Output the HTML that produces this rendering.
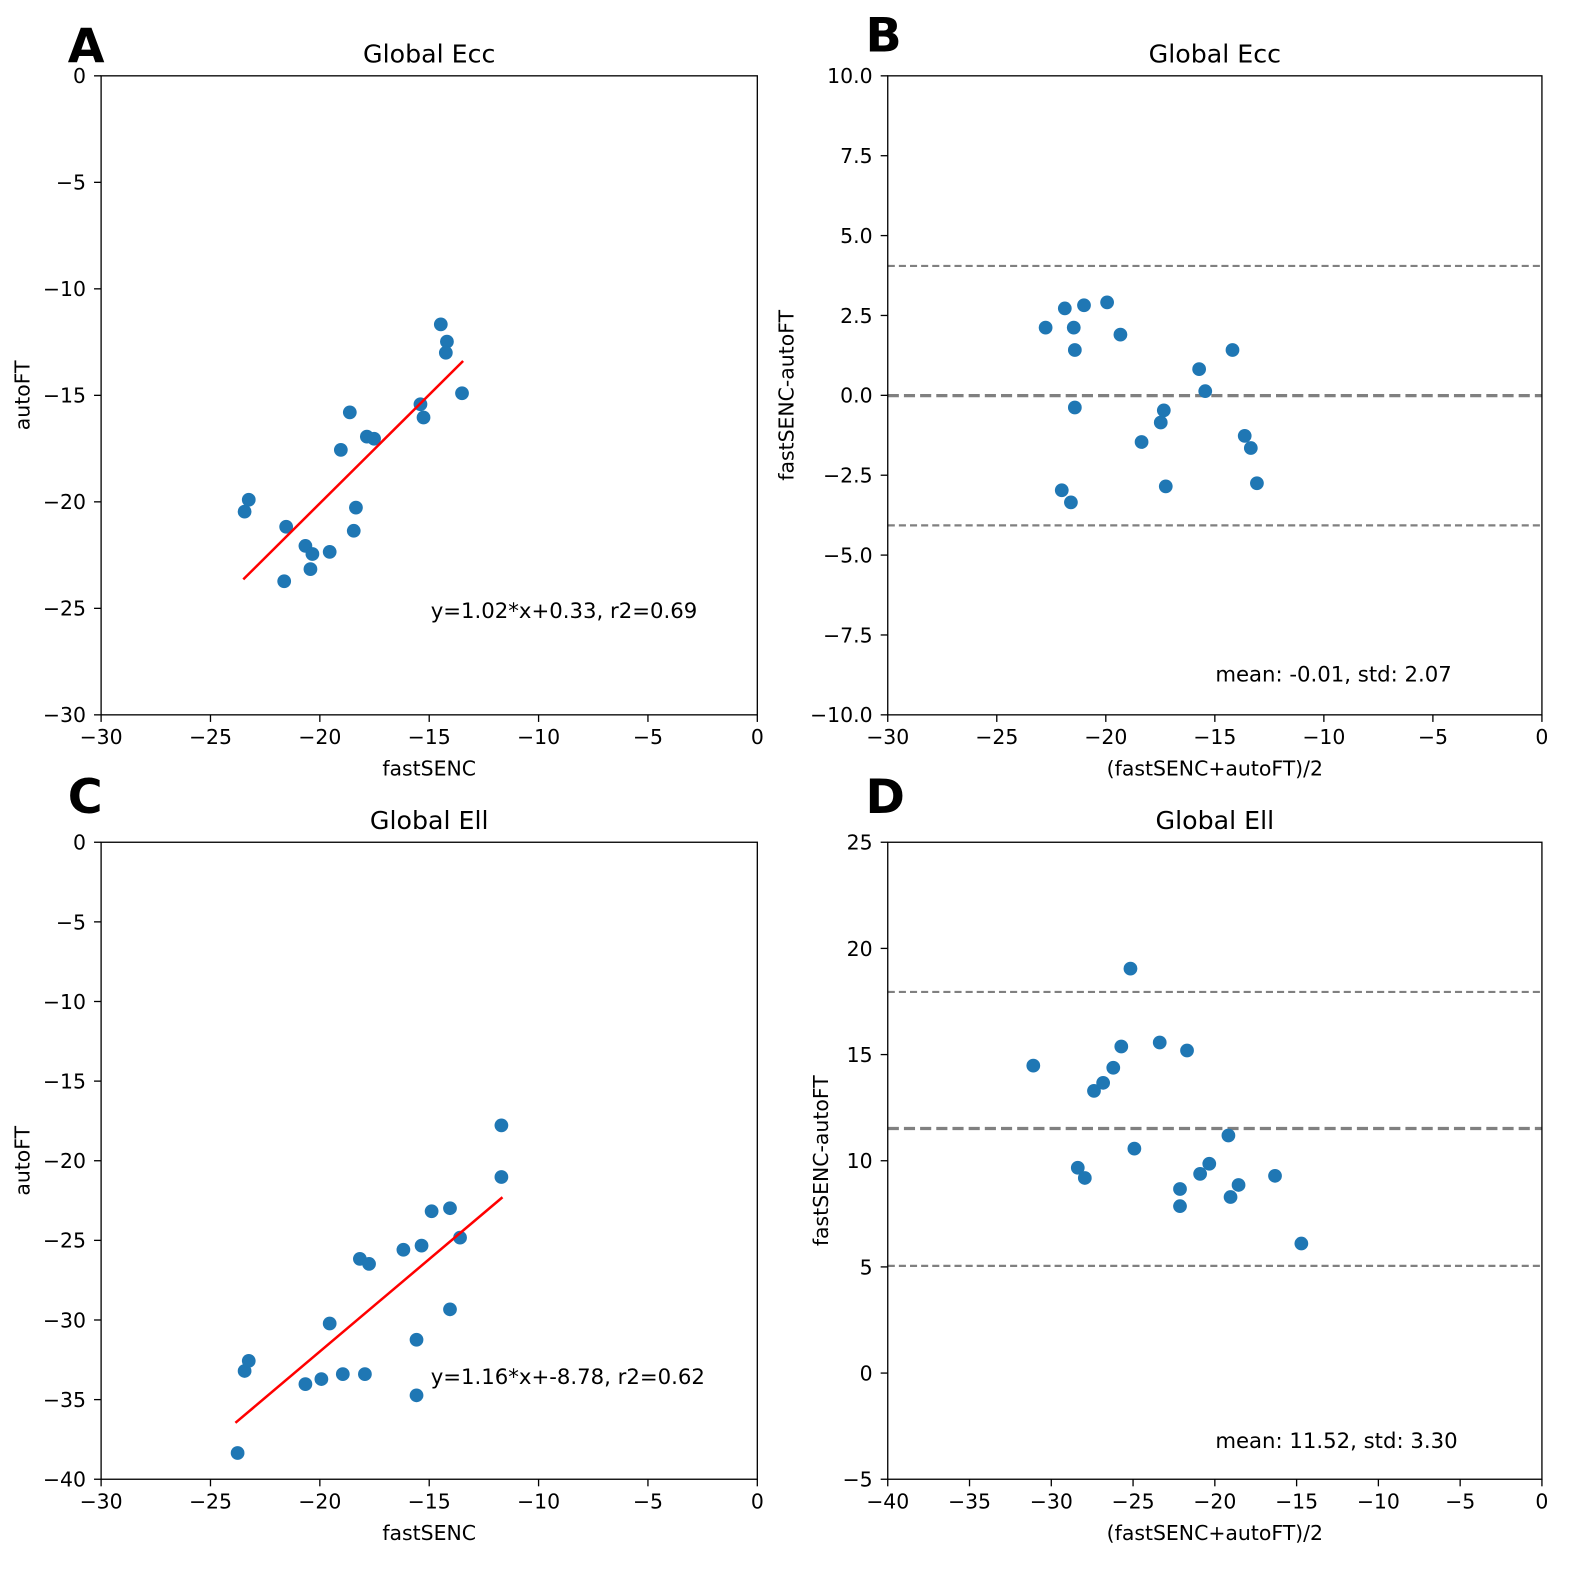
<!DOCTYPE html>
<html><head><meta charset="utf-8"><style>
body{margin:0;background:#fff}
svg{display:block;font-family:"DejaVu Sans","Liberation Sans",sans-serif}
</style></head><body>
<svg width="1575" height="1585" xmlns="http://www.w3.org/2000/svg"><g id="fig" transform="scale(1.0111)"></g></svg>
<script>
const aX=[-23.44,-23.25,-21.54,-21.63,-20.66,-20.34,-20.43,-19.55,-19.04,-18.63,-18.45,-18.35,-17.85,-17.52,-15.4,-15.26,-14.47,-14.19,-14.24,-13.5];
const aY=[-20.46,-19.9,-21.17,-23.73,-22.07,-22.45,-23.16,-22.35,-17.56,-15.8,-21.36,-20.27,-16.94,-17.04,-15.42,-16.04,-11.67,-12.48,-13.0,-14.9];
const aFit=[1.02,0.33]; const aFitRange=[-23.5,-13.45];
const bX=[-22.76,-21.88,-21.47,-21.0,-19.94,-19.33,-21.42,-21.42,-22.02,-21.6,-18.36,-17.48,-17.34,-17.25,-15.72,-15.44,-14.19,-13.63,-13.35,-13.07];
const bY=[2.12,2.72,2.12,2.82,2.91,1.9,1.42,-0.38,-2.97,-3.35,-1.46,-0.85,-0.47,-2.85,0.82,0.13,1.42,-1.27,-1.65,-2.75];
const bLines=[-0.01,4.05,-4.07];
const cX=[-23.76,-23.44,-23.25,-20.66,-19.93,-19.55,-18.95,-18.17,-17.94,-17.75,-16.18,-15.58,-15.58,-15.35,-14.89,-14.05,-14.05,-13.59,-11.7,-11.7];
const cY=[-38.35,-33.2,-32.57,-34.03,-33.71,-30.22,-33.4,-26.16,-33.4,-26.48,-25.59,-31.24,-34.73,-25.33,-23.17,-22.98,-29.33,-24.83,-17.78,-21.02];
const cFit=[1.16,-8.78]; const cFitRange=[-23.86,-11.65];
const dX=[-31.1,-28.38,-27.95,-27.39,-26.83,-26.21,-25.72,-25.16,-24.92,-23.37,-22.13,-22.13,-21.7,-20.9,-20.34,-19.17,-19.04,-18.55,-16.32,-14.71];
const dY=[14.48,9.67,9.19,13.29,13.67,14.38,15.38,19.05,10.57,15.57,8.67,7.86,15.19,9.38,9.86,11.19,8.29,8.86,9.29,6.1];
const dLines=[11.52,17.95,5.05];
const ticksX30=[-30,-25,-20,-15,-10,-5,0];
const ticksX40=[-40,-35,-30,-25,-20,-15,-10,-5,0];
const ticksYA=[-30,-25,-20,-15,-10,-5,0];
const ticksYB=[-10,-7.5,-5,-2.5,0,2.5,5,7.5,10];
const ticksYC=[-40,-35,-30,-25,-20,-15,-10,-5,0];
const ticksYD=[-5,0,5,10,15,20,25];

const NS="http://www.w3.org/2000/svg";
const svg=document.getElementById('fig');
const FS=20.2;
function mk(tag,attrs,parent,text){const e=document.createElementNS(NS,tag);for(const k in attrs)e.setAttribute(k,attrs[k]);if(text!==undefined)e.textContent=text;(parent||svg).appendChild(e);return e;}
function fmt(v,dec){let s=v.toFixed(dec);return s.replace('-','\u2212');}

function panel(o){
  const g=mk('g',{});
  
  
  const sx=v=>o.x0+(v-o.xr[0])/(o.xr[1]-o.xr[0])*(o.x1-o.x0);
  const sy=v=>o.y1-(v-o.yr[0])/(o.yr[1]-o.yr[0])*(o.y1-o.y0);
  if(o.lines){o.lines.forEach((v,i)=>{const l=mk('line',{x1:o.x0,x2:o.x1,y1:sy(v),y2:sy(v),stroke:'#808080','stroke-width':i===0?3.2:2.2,'stroke-dasharray':i===0?'11,5':'7,4'},g);
    
    });}
  o.xs.forEach((x,i)=>{const c=mk('circle',{cx:sx(x),cy:sy(o.ys[i]),r:6.8,fill:'#1f77b4'},g);
    
    });
  if(o.fit){const f=o.fit,r=o.fitRange;const l=mk('line',{x1:sx(r[0]),y1:sy(f[0]*r[0]+f[1]),x2:sx(r[1]),y2:sy(f[0]*r[1]+f[1]),stroke:'#ff0000','stroke-width':2.5},g);
    
    }
  const fr=mk('rect',{x:o.x0,y:o.y0,width:o.x1-o.x0,height:o.y1-o.y0,fill:'none',stroke:'#000','stroke-width':1.3},g);
  
  
  o.tx.forEach(v=>{mk('line',{x1:sx(v),x2:sx(v),y1:o.y1,y2:o.y1+7,stroke:'#000','stroke-width':1.3},g);
    const t=mk('text',{x:sx(v),y:o.y1+29,'font-size':FS,'text-anchor':'middle'},g,fmt(v,0));
    
    });
  o.ty.forEach(v=>{mk('line',{x1:o.x0-7,x2:o.x0,y1:sy(v),y2:sy(v),stroke:'#000','stroke-width':1.3},g);
    const t=mk('text',{x:o.x0-15,y:sy(v)+7.3,'font-size':FS,'text-anchor':'end'},g,fmt(v,o.ydec));
    
    });
  const xl=mk('text',{x:(o.x0+o.x1)/2,y:o.y1+60,'font-size':FS,'text-anchor':'middle'},g,o.xlabel);
  
  
  const yl=mk('text',{x:0,y:0,'font-size':FS,'text-anchor':'middle',transform:`translate(${o.ylx},${(o.y0+o.y1)/2}) rotate(-90)`},g,o.ylabel);
  
  
  const ti=mk('text',{x:(o.x0+o.x1)/2,y:o.y0-13,'font-size':25,'text-anchor':'middle'},g,o.title);
  
  
  const le=mk('text',{x:o.lx,y:o.ly,'font-size':47,'font-weight':'bold'},g,o.letter);
  
  
  const an=mk('text',{x:o.ax,y:o.ay,'font-size':21},g,o.annot);
  
  
}
panel({id:'a',x0:100,x1:749,y0:75,y1:707,xr:[-30,0],yr:[-30,0],xs:aX,ys:aY,fit:aFit,fitRange:aFitRange,tx:ticksX30,ty:ticksYA,ydec:0,xlabel:'fastSENC',ylabel:'autoFT',ylx:29,title:'Global Ecc',letter:'A',lx:67,ly:62,annot:'y=1.02*x+0.33, r2=0.69',ax:426,ay:611});
panel({id:'b',x0:878,x1:1525,y0:75,y1:707,xr:[-30,0],yr:[-10,10],xs:bX,ys:bY,lines:bLines,tx:ticksX30,ty:ticksYB,ydec:1,xlabel:'(fastSENC+autoFT)/2',ylabel:'fastSENC-autoFT',ylx:785,title:'Global Ecc',letter:'B',lx:856,ly:51,annot:'mean: -0.01, std: 2.07',ax:1202,ay:674});
panel({id:'c',x0:100,x1:749,y0:833,y1:1463,xr:[-30,0],yr:[-40,0],xs:cX,ys:cY,fit:cFit,fitRange:cFitRange,tx:ticksX30,ty:ticksYC,ydec:0,xlabel:'fastSENC',ylabel:'autoFT',ylx:29,title:'Global Ell',letter:'C',lx:67,ly:804,annot:'y=1.16*x+-8.78, r2=0.62',ax:426,ay:1369});
panel({id:'d',x0:878,x1:1525,y0:833,y1:1463,xr:[-40,0],yr:[-5,25],xs:dX,ys:dY,lines:dLines,tx:ticksX40,ty:ticksYD,ydec:0,xlabel:'(fastSENC+autoFT)/2',ylabel:'fastSENC-autoFT',ylx:819,title:'Global Ell',letter:'D',lx:856,ly:804,annot:'mean: 11.52, std: 3.30',ax:1202,ay:1432});
</script>
</body></html>
